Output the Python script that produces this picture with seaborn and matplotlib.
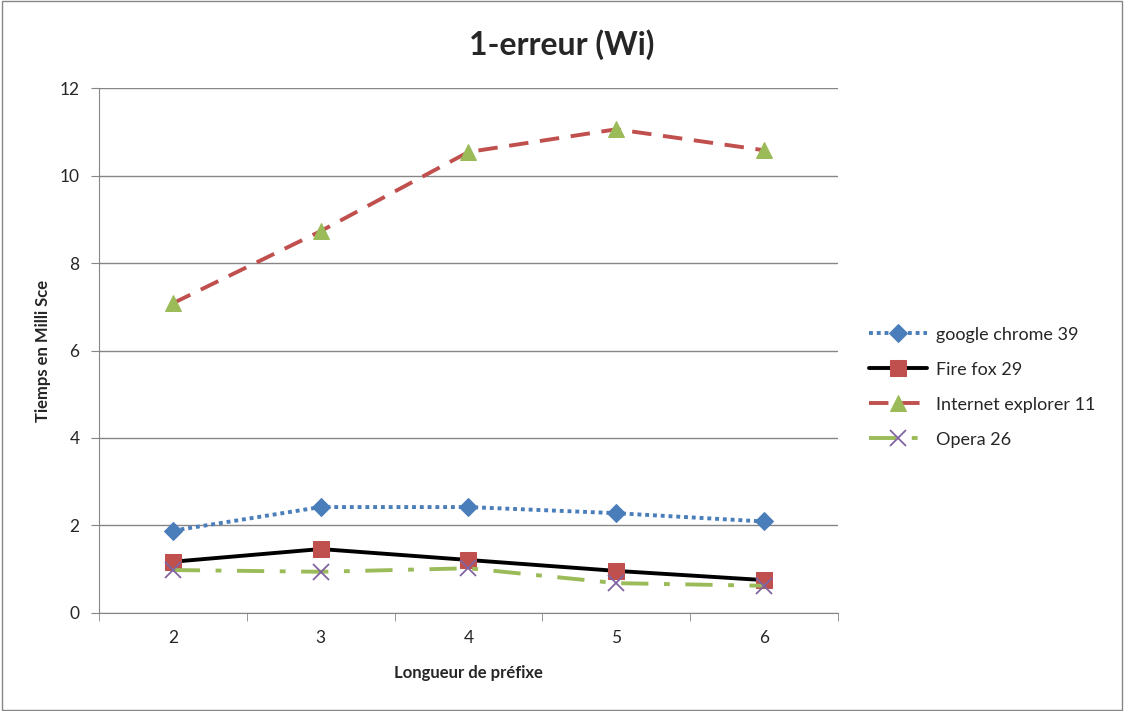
import pandas as pd
import matplotlib
matplotlib.use('Agg')
import matplotlib.pyplot as plt
import seaborn as sns

# données
longueurs = [2, 3, 4, 5, 6]
chrome = [1.88, 2.42, 2.42, 2.28, 2.09]
firefox = [1.17, 1.46, 1.21, 0.96, 0.75]
explorer = [7.08, 8.73, 10.54, 11.06, 10.58]
opera = [0.98, 0.94, 1.02, 0.68, 0.62]
noms = ['google chrome 39', 'Fire fox 29', 'Internet explorer 11', 'Opera 26']

sns.set_style('white')
plt.rcParams['font.family'] = ['Lato', 'DejaVu Sans']

fig = plt.figure(figsize=(11.24, 7.11), dpi=100)
ax = fig.add_axes([0.088, 0.138, 0.6576, 0.738])

styles = [
    dict(color='#4A7EBB', linestyle=(0, (1, 1)), linewidth=2.8, marker='D', markersize=9,
         markerfacecolor='#4A7EBB', markeredgecolor='#4A7EBB'),
    dict(color='black', linestyle='-', linewidth=2.8, marker='s', markersize=11,
         markerfacecolor='#C0504D', markeredgecolor='#C0504D'),
    dict(color='#C0504D', linestyle=(0, (5, 3)), linewidth=2.8, marker='^', markersize=12,
         markerfacecolor='#9BBB59', markeredgecolor='#9BBB59'),
    dict(color='#9BBB59', linestyle=(0, (7, 4, 1.5, 4)), linewidth=2.8, marker='x', markersize=11,
         markeredgewidth=1.3, markeredgecolor='#8064A2'),
]

for nom, vals, st in zip(noms, [chrome, firefox, explorer, opera], styles):
    df = pd.DataFrame({'x': longueurs, 'y': vals})
    sns.lineplot(data=df, x='x', y='y', ax=ax, label=nom, **st)

ax.set_xlim(1.5, 6.5)
ax.set_ylim(0, 12)
ax.set_yticks(range(0, 13, 2))
ax.set_xticks(longueurs)
ax.set_xticks([1.5, 2.5, 3.5, 4.5, 5.5, 6.5], minor=True)
ax.tick_params(axis='x', which='major', length=0, labelsize=12.5, pad=12)
ax.tick_params(axis='x', which='minor', length=6, color='#868686', direction='out', bottom=True)
ax.tick_params(axis='y', which='major', length=6, color='#868686', direction='out', left=True,
               labelsize=12.5, pad=8)
ax.grid(axis='y', color='#868686', linewidth=1)
ax.set_axisbelow(True)
for s in ['top', 'right']:
    ax.spines[s].set_visible(False)
for s in ['left', 'bottom']:
    ax.spines[s].set_color('#868686')

ax.set_xlabel('Longueur de préfixe', fontsize=12, fontweight='bold', labelpad=14)
ax.set_ylabel('Tiemps en Milli Sce', fontsize=12, fontweight='bold', labelpad=6)
fig.text(0.5, 0.937, '1-erreur (Wi)', fontsize=23, fontweight='bold', ha='center', va='center')

ax.legend(loc='center left', bbox_to_anchor=(1.02, 0.43), frameon=False, fontsize=13,
          handlelength=3.2, handletextpad=0.5, labelspacing=1.05)

fig.patches.append(plt.Rectangle((0.0015, 0.002), 0.997, 0.996, transform=fig.transFigure,
                                 fill=False, edgecolor='#868686', linewidth=1))

fig.savefig('out.png', dpi=100)
